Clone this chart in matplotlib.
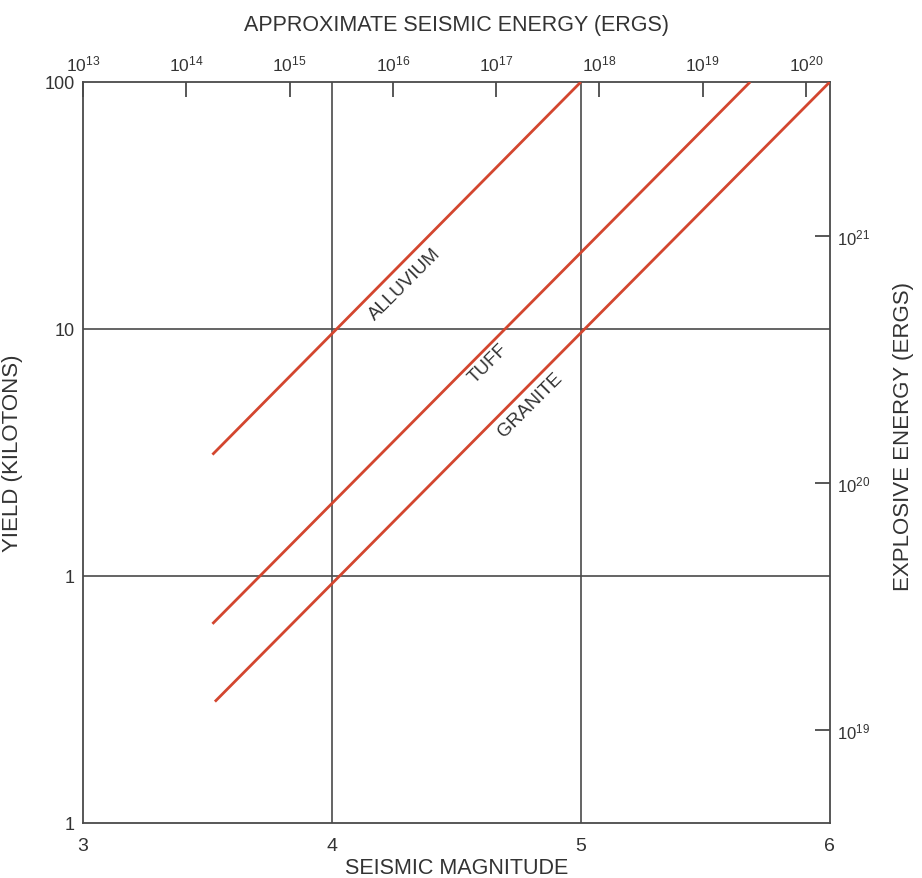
import numpy as np
import matplotlib
matplotlib.use("Agg")
import matplotlib.pyplot as plt

plt.rcParams['font.family'] = ['Liberation Sans', 'DejaVu Sans']
plt.rcParams['mathtext.default'] = 'regular'

# Yield vs. seismic magnitude for three host rocks (line end points)
alluvium_mag = [3.52, 5.0]
alluvium_kt = [3.1, 100]
tuff_mag = [3.52, 5.68]
tuff_kt = [0.64, 100]
granite_mag = [3.53, 6.0]
granite_kt = [0.31, 100]

mag_ticks = [3, 4, 5, 6]
mag_labels = ['3', '4', '5', '6']
yield_ticks = [0.1, 1, 10, 100]
yield_labels = ['1', '1', '10', '100']

seismic_exponents = [13, 14, 15, 16, 17, 18, 19, 20]
explosive_exponents = [19, 20, 21]

ERGS_PER_KT = 4.184e19
LOG_E_AT_M3 = 13.0
LOG_E_PER_MAG = 2.41

TEXT = '#333333'
FRAME = '#4a4a4a'
RED = '#d3462f'


def mag_to_loge(m):
    return LOG_E_AT_M3 + (np.asarray(m) - 3.0) * LOG_E_PER_MAG


def loge_to_mag(e):
    return 3.0 + (np.asarray(e) - LOG_E_AT_M3) / LOG_E_PER_MAG


def kt_to_ergs(y):
    return np.asarray(y) * ERGS_PER_KT


def ergs_to_kt(e):
    return np.asarray(e) / ERGS_PER_KT


fig = plt.figure(figsize=(9.22, 8.79), dpi=100)
ax = fig.add_axes([0.090, 0.0626, 0.810, 0.843])

ax.set_yscale('log')
ax.set_xlim(3, 6)
ax.set_ylim(0.1, 100)

for m, y in ((alluvium_mag, alluvium_kt), (tuff_mag, tuff_kt), (granite_mag, granite_kt)):
    ax.plot(m, y, color=RED, lw=2.0, solid_capstyle='butt', zorder=3)

# interior grid lines
for m in mag_ticks[1:-1]:
    ax.axvline(m, color=FRAME, lw=1.2, zorder=2)
for y in yield_ticks[1:-1]:
    ax.axhline(y, color=FRAME, lw=1.2, zorder=2)

for s in ax.spines.values():
    s.set_color(FRAME)
    s.set_linewidth(1.3)

ax.set_xticks(mag_ticks, mag_labels)
ax.set_yticks(yield_ticks, yield_labels)
ax.yaxis.set_minor_locator(matplotlib.ticker.NullLocator())
ax.tick_params(axis='x', length=0, pad=10, labelsize=14, labelcolor=TEXT)
ax.tick_params(axis='y', length=0, pad=6, labelsize=13, labelcolor=TEXT)

ax.set_xlabel('SEISMIC MAGNITUDE', fontsize=15.5, color=TEXT, labelpad=2)
ax.set_ylabel('YIELD (KILOTONS)', fontsize=16, color=TEXT)
ax.yaxis.set_label_coords(-0.080, 0.5)

# approximate seismic energy along the top
top = ax.secondary_xaxis('top', functions=(mag_to_loge, loge_to_mag))
top.set_xticks(seismic_exponents, [r'$10^{%d}$' % e for e in seismic_exponents])
top.tick_params(direction='in', length=11, width=1.3, color=FRAME, pad=6,
                labelsize=12.5, labelcolor=TEXT)
top.spines['top'].set_visible(False)
top.set_xlabel('APPROXIMATE SEISMIC ENERGY (ERGS)', fontsize=15.5, color=TEXT, labelpad=17)

# explosive energy along the right side
right = ax.secondary_yaxis('right', functions=(kt_to_ergs, ergs_to_kt))
right.set_yticks([10.0 ** e for e in explosive_exponents],
                 [r'$10^{%d}$' % e for e in explosive_exponents])
right.yaxis.set_minor_locator(matplotlib.ticker.NullLocator())
right.tick_params(direction='in', length=11, width=1.3, color=FRAME, pad=5,
                  labelsize=12, labelcolor=TEXT)
right.spines['right'].set_visible(False)
fig.text(903 / 922, 1 - 437 / 879, 'EXPLOSIVE ENERGY (ERGS)', fontsize=16,
         color=TEXT, rotation=90, ha='center', va='center')

# rock type labels along the lines
label_kw = dict(fontsize=13.5, color=TEXT, rotation=45, ha='center', va='center',
                rotation_mode='anchor', zorder=4)
ax.text(4.293, 15.2, 'ALLUVIUM', **label_kw)
ax.text(4.63, 7.3, 'TUFF', **label_kw)
ax.text(4.795, 4.95, 'GRANITE', **label_kw)

fig.savefig('out.png', dpi=100)
